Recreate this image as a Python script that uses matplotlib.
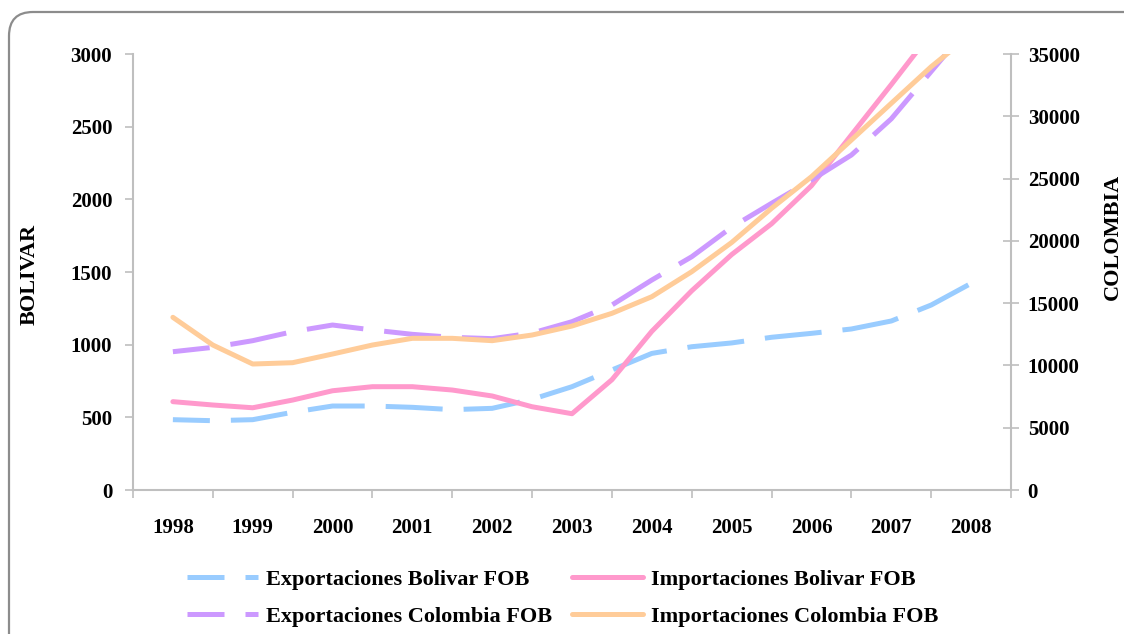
import numpy as np
import matplotlib.pyplot as plt
from matplotlib.patches import FancyBboxPatch
from matplotlib.transforms import IdentityTransform

plt.rcParams['font.family'] = ['Liberation Serif', 'DejaVu Serif']
plt.rcParams['font.weight'] = 'bold'

# eje de categorias (anios) y datos semestrales
anios = ['1998', '1999', '2000', '2001', '2002', '2003',
         '2004', '2005', '2006', '2007', '2008']
periodos = [f'{a}-{s}' for a in range(1998, 2008) for s in ('I', 'II')] + ['2008-I']

# Bolivar (eje izquierdo)
exp_bolivar = [484, 477, 484, 535, 578, 578, 569, 553, 562, 624, 711,
               826, 940, 986, 1012, 1051, 1078, 1108, 1163, 1273, 1422]
imp_bolivar = [608, 585, 566, 619, 683, 711, 711, 688, 647, 573, 525,
               759, 1092, 1371, 1620, 1832, 2094, 2443, 2790, 3145, 3510]

# Colombia (eje derecho)
exp_colombia = [11103, 11452, 11988, 12712, 13245, 12850, 12498, 12257, 12150, 12600, 13513,
                14852, 16858, 18728, 21100, 23016, 24886, 26893, 29800, 33600, 37400]
imp_colombia = [13864, 11640, 10115, 10221, 10918, 11640, 12177, 12177, 11988, 12443, 13165,
                14183, 15519, 17526, 19870, 22612, 25152, 28097, 31044, 33983, 36580]

azul = '#99ccff'
rosa = '#ff99cc'
lila = '#cc99ff'
naranja = '#ffcc99'
gris = '#bfbfbf'
fs_tick = 15
fs_txt = 16
guion = (4, (11.4, 4.2))

fig = plt.figure(figsize=(11.24, 6.34), dpi=100)
ax = fig.add_axes([0.1183, 0.2271, 0.7812, 0.6877])
ax2 = ax.twinx()

x = np.arange(len(periodos)) / 2

l1, = ax.plot(x, exp_bolivar, color=azul, lw=3.6, ls=guion, label='Exportaciones Bolivar FOB')
l2, = ax.plot(x, imp_bolivar, color=rosa, lw=3.6, solid_capstyle='round',
              label='Importaciones Bolivar FOB')
l3, = ax2.plot(x, exp_colombia, color=lila, lw=3.6, ls=guion, label='Exportaciones Colombia FOB')
l4, = ax2.plot(x, imp_colombia, color=naranja, lw=3.6, solid_capstyle='round',
               label='Importaciones Colombia FOB')

ax.set_xlim(-0.5, 10.5)
ax.set_ylim(0, 3000)
ax2.set_ylim(0, 35000)
ax.set_yticks(np.arange(0, 3001, 500))
ax2.set_yticks(np.arange(0, 35001, 5000))

ax.set_xticks(np.arange(-0.5, 11, 1))
ax.set_xticklabels([])
ax.set_xticks(np.arange(11), minor=True)
ax.set_xticklabels(anios, minor=True)
ax.tick_params(axis='x', which='major', length=6, width=1.2, color=gris)
ax.tick_params(axis='x', which='minor', length=0, pad=20, labelsize=fs_tick)
ax.tick_params(axis='y', length=6, width=1.2, color=gris, pad=9, labelsize=fs_tick)
ax2.tick_params(axis='y', direction='inout', length=12, width=1.2, color=gris, pad=6,
                labelsize=fs_tick)

for a in (ax, ax2):
    for s in a.spines.values():
        s.set_color(gris)
        s.set_linewidth(1.5)
    a.spines['top'].set_visible(False)
ax.spines['right'].set_visible(False)
ax2.spines['left'].set_visible(False)
ax2.spines['bottom'].set_visible(False)

fig.text(30 / 1124, 1 - 274 / 634, 'BOLIVAR', rotation=90, ha='center', va='center', fontsize=fs_txt)
fig.text(1113 / 1124, 1 - 237 / 634, 'COLOMBIA', rotation=90, ha='center', va='center', fontsize=fs_txt)

fig.legend([l1, l3, l2, l4], [l1.get_label(), l3.get_label(), l2.get_label(), l4.get_label()],
           ncol=2, loc='upper left', bbox_to_anchor=(187 / 1124, 1 - 569 / 634),
           frameon=False, fontsize=fs_txt, borderpad=0, borderaxespad=0,
           handlelength=3.2, handletextpad=0.36, columnspacing=0.9, labelspacing=0.74)

marco = FancyBboxPatch((9, -80), 1300, 622 + 80, boxstyle='round,pad=0,rounding_size=24',
                       transform=IdentityTransform(), fill=False, edgecolor='#8c8c8c', lw=1.6)
fig.patches.append(marco)

fig.savefig('out.png', dpi=100)
